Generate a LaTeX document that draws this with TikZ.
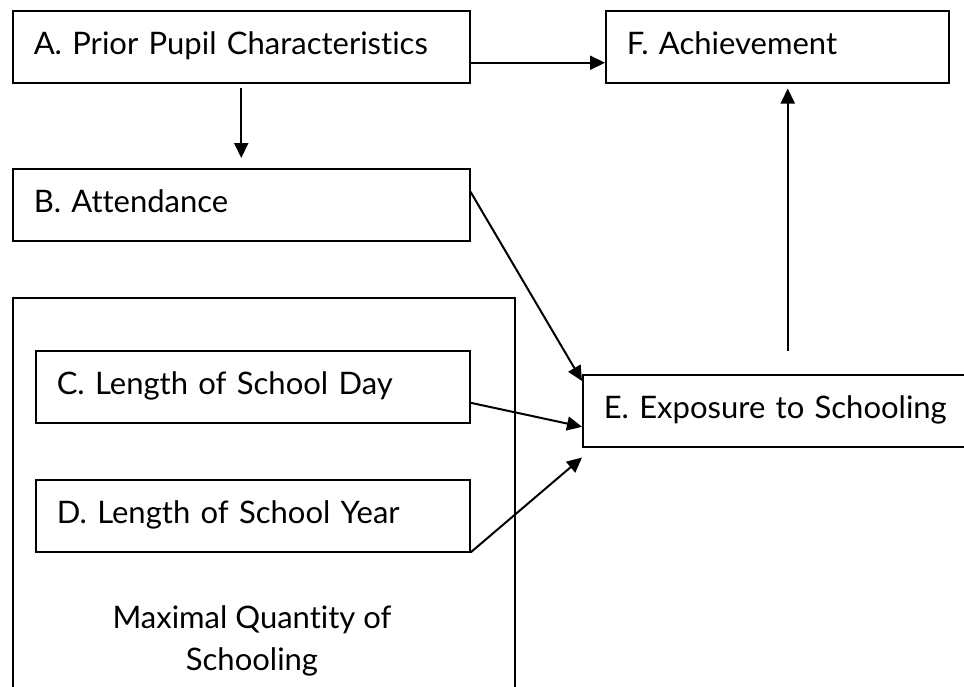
\documentclass[tikz,border=0pt]{standalone}
\usepackage{fontspec}
\setmainfont{Lato}[Ligatures=NoCommon]
\usetikzlibrary{arrows.meta, positioning}

\begin{document}
\begin{tikzpicture}[%
    x = 1pt, y = -1pt,
    >= { Triangle[length=15pt, width=14pt] },
    line width = 2pt,
    font = \fontsize{31}{37}\selectfont,
    stage/.style = {%
      draw,
      line width = 1.5pt,
      rectangle,
      anchor = north west,
      align = left,
      inner xsep = 21pt,
      inner ysep = 0pt,
      minimum height = 72pt,
      text height = 44pt,
      text depth = 28pt }
  ]
  \useasboundingbox (0,0) rectangle (964,686);
  \clip (0,0) rectangle (964,686);

  % outer frame round the two school-time boxes
  \node[draw, line width=1.5pt, anchor=north west, inner sep=0pt,
        minimum width=502pt, minimum height=420pt] (maxq) at (12,297) {};
  \node[align=center, font=\fontsize{31}{42}\selectfont] (maxlbl) at (252,641)
    {Maximal Quantity of\\Schooling};

  \node[stage, text width=415pt] (A) at (12,10)  {A. Prior Pupil Characteristics};
  \node[stage, text width=415pt] (B) at (12,168) {B. Attendance};
  \node[stage, text width=392pt] (C) at (35,350) {C. Length of School Day};
  \node[stage, text width=392pt] (D) at (35,479) {D. Length of School Year};
  \node[stage, text width=368pt] (E) at (582,374) {E. Exposure to Schooling};
  \node[stage, text width=301pt] (F) at (605,10) {F. Achievement};

  \draw[->] ([yshift=-16pt]A.east) -- ([yshift=-16pt]F.west);
  \draw[->, shorten <=4pt, shorten >=10pt] (A.south) -- (B.north);
  \draw[->] ([yshift=13pt]B.east) -- ([yshift=-7pt]E.north west);
  \draw[->] ([yshift=-16pt]C.east) -- ([yshift=-16pt]E.west);
  \draw[->] (D.south east) -- ([yshift=-10pt]E.south west);
  \draw[->, shorten <=23pt, shorten >=5pt] (E.north) -- (E.north |- F.south);

\end{tikzpicture}
\end{document}
